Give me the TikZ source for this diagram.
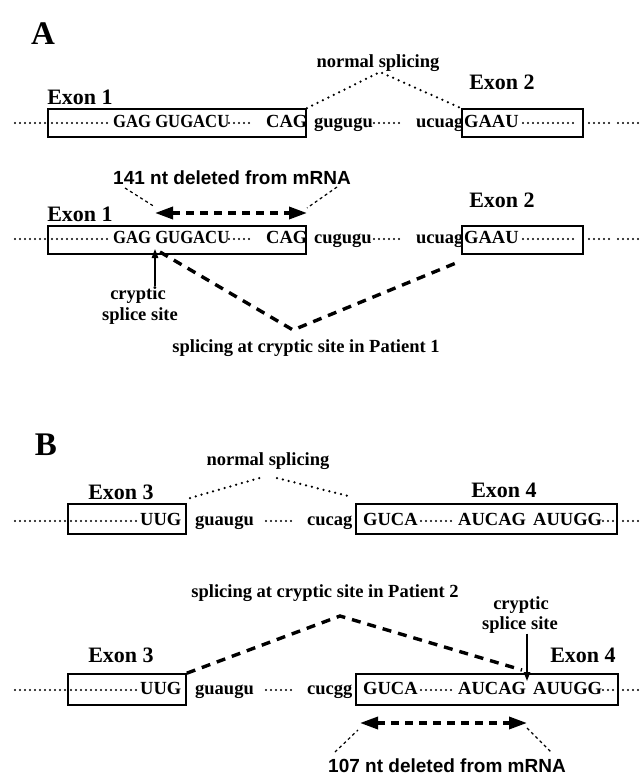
\documentclass[tikz,border=0pt]{standalone}
\usepackage{fontspec}
\setmainfont{Liberation Serif}
\newfontfamily\sansb{Liberation Sans}
\usetikzlibrary{arrows.meta}
\begin{document}
\begin{tikzpicture}[x=1pt,y=-1pt,
  lab/.style={font=\fontsize{18.5}{20}\selectfont\bfseries, inner sep=0pt},
  seq/.style={font=\fontsize{18.5}{20}\selectfont\bfseries, inner sep=0pt, anchor=base west},
  exonlab/.style={font=\fontsize{22}{24}\selectfont\bfseries, inner sep=0pt},
  panel/.style={font=\fontsize{33}{36}\selectfont\bfseries, inner sep=0pt},
  delab/.style={font=\sansb\fontsize{19}{21}\selectfont\bfseries, inner sep=0pt},
  exonbox/.style={draw, line width=1.6pt, inner sep=0pt},
  rowdots/.style={line width=2.2pt, line cap=round, dash pattern=on 0pt off 5pt},
  normdots/.style={line width=2.5pt, line cap=round, dash pattern=on 0pt off 6pt},
  bigdash/.style={line width=3.4pt, dash pattern=on 9pt off 7pt},
  leader/.style={line width=1.2pt, dash pattern=on 3pt off 3pt},
  dblarrow/.style={line width=3.4pt, dash pattern=on 8pt off 6pt, {Triangle[length=18pt,width=12pt]}-{Triangle[length=18pt,width=12pt]}},
  siteptr/.style={line width=1.3pt, -{Triangle[length=9pt,width=6.5pt]}}
]
\useasboundingbox (0,0) rectangle (642,776);

% ===================== Panel A =====================
\node[panel] (pA) at (43,34) {A};

% --- row A1 ---
\node[exonbox, minimum width=258pt, minimum height=28pt] (a1b1) at (177,123) {};
\node[exonbox, minimum width=121pt, minimum height=28pt] (a1b2) at (522.5,123) {};
\node[exonlab] (a1e1) at (80,97) {Exon 1};
\node[exonlab] (a1e2) at (502,82) {Exon 2};
\node[lab] (a1ns) at (378,63) {normal splicing};
\coordinate (a1pk) at (380,72);
\draw[normdots] (a1b1.north east) -- (a1pk) -- (a1b2.north west);
\draw[rowdots] (15,123) -- (46,123);
\draw[rowdots] (52,123) -- (108,123);
\draw[rowdots] (229,123) -- (250,123);
\draw[rowdots] (374,123) -- (403,123);
\draw[rowdots] (523,123) -- (577,123);
\draw[rowdots] (589,123) -- (609,123);
\draw[rowdots] (618,123) -- (638,123);
\node[seq] (a1s1) at (113,127.5) {\scalebox{0.9}[1]{GAG GUGACU}};
\node[seq] (a1s2) at (266,127.5) {CAG};
\node[seq] (a1s3) at (314,127.5) {gugugu};
\node[seq] (a1s4) at (416,127.5) {ucuag};
\node[seq] (a1s5) at (464,127.5) {GAAU};

% --- row A2 ---
\node[delab] (a2del) at (232,178) {141 nt deleted from mRNA};
\coordinate (a2al) at (155,213);
\coordinate (a2ar) at (307,213);
\coordinate (a2ll) at (125,188);
\coordinate (a2lr) at (337,187);
\draw[leader] (a2ll) -- (155,207);
\draw[leader] (a2lr) -- (307,208);
\draw[dblarrow] (a2al) -- (a2ar);
\node[exonbox, minimum width=258pt, minimum height=28pt] (a2b1) at (177,240) {};
\node[exonbox, minimum width=121pt, minimum height=28pt] (a2b2) at (522.5,240) {};
\node[exonlab] (a2e1) at (80,214) {Exon 1};
\node[exonlab] (a2e2) at (502,200) {Exon 2};
\draw[rowdots] (15,239) -- (46,239);
\draw[rowdots] (52,239) -- (108,239);
\draw[rowdots] (229,239) -- (250,239);
\draw[rowdots] (374,239) -- (403,239);
\draw[rowdots] (523,239) -- (577,239);
\draw[rowdots] (589,239) -- (609,239);
\draw[rowdots] (618,239) -- (638,239);
\node[seq] (a2s1) at (113,243.5) {\scalebox{0.9}[1]{GAG GUGACU}};
\node[seq] (a2s2) at (266,243.5) {CAG};
\node[seq] (a2s3) at (314,243.5) {cugugu};
\node[seq] (a2s4) at (416,243.5) {ucuag};
\node[seq] (a2s5) at (464,243.5) {GAAU};
\node[lab] (a2cr) at (138,295) {cryptic};
\node[lab] (a2ss) at (140,316) {splice site};
\coordinate (a2tip) at (155,249);
\draw[siteptr] (a2cr.north -| a2tip) -- (a2tip);
\coordinate (a2vs) at (160,252);
\coordinate (a2vb) at (293,330);
\coordinate (a2ve) at (456,263);
\draw[bigdash] (a2vs) -- (a2vb) -- (a2ve);
\node[lab] (a2cap) at (306,348) {splicing at cryptic site in Patient 1};

% ===================== Panel B =====================
\node[panel] (pB) at (46,445) {B};

% --- row B1 ---
\node[lab] (b1ns) at (268,461) {normal splicing};
\node[exonbox, minimum width=118pt, minimum height=30pt] (b1b3) at (127,519) {};
\node[exonbox, minimum width=261pt, minimum height=30pt] (b1b4) at (486.5,519) {};
\node[exonlab] (b1e3) at (121,492) {Exon 3};
\node[exonlab] (b1e4) at (504,490) {Exon 4};
\coordinate (b1pl) at (263,477);
\coordinate (b1pr) at (277,478);
\coordinate (b1l) at (190,498);
\coordinate (b1r) at (352,497);
\draw[normdots] (b1l) -- (b1pl);
\draw[normdots] (b1pr) -- (b1r);
\draw[rowdots] (15,521) -- (65,521);
\draw[rowdots] (71,521) -- (137,521);
\draw[rowdots] (266,521) -- (295,521);
\draw[rowdots] (421,521) -- (455,521);
\draw[rowdots] (603,521) -- (614,521);
\draw[rowdots] (623,521) -- (640,521);
\node[seq] (b1s1) at (140,525.5) {UUG};
\node[seq] (b1s2) at (195,525.5) {guaugu};
\node[seq] (b1s3) at (307,525.5) {cucag};
\node[seq] (b1s4) at (363,525.5) {GUCA};
\node[seq] (b1s5) at (458,525.5) {AUCAG};
\node[seq] (b1s6) at (533,525.5) {AUUGG};

% --- row B2 ---
\node[lab] (b2cap) at (325,593) {splicing at cryptic site in Patient 2};
\node[lab] (b2cr) at (521,605) {cryptic};
\node[lab] (b2ss) at (520,625) {splice site};
\node[exonbox, minimum width=118pt, minimum height=31pt] (b2b3) at (127,689.5) {};
\node[exonbox, minimum width=262pt, minimum height=31pt] (b2b4) at (487,689.5) {};
\node[exonlab] (b2e3) at (121,655) {Exon 3};
\node[exonlab] (b2e4) at (583,655) {Exon 4};
\coordinate (b2pk) at (340,616);
\coordinate (b2end) at (522,670);
\draw[bigdash] (b2b3.north east) -- (b2pk) -- (b2end);
\coordinate (b2tip) at (527,681);
\draw[siteptr] (b2ss.south -| b2tip) -- (b2tip);
\draw[rowdots] (15,690) -- (65,690);
\draw[rowdots] (71,690) -- (137,690);
\draw[rowdots] (266,690) -- (295,690);
\draw[rowdots] (421,690) -- (455,690);
\draw[rowdots] (603,690) -- (614,690);
\draw[rowdots] (623,690) -- (640,690);
\node[seq] (b2s1) at (140,694.5) {UUG};
\node[seq] (b2s2) at (195,694.5) {guaugu};
\node[seq] (b2s3) at (307,694.5) {cucgg};
\node[seq] (b2s4) at (363,694.5) {GUCA};
\node[seq] (b2s5) at (458,694.5) {AUCAG};
\node[seq] (b2s6) at (533,694.5) {AUUGG};
\coordinate (b2al) at (360,723);
\coordinate (b2ar) at (527,723);
\draw[dblarrow] (b2al) -- (b2ar);
\node[delab] (b2del) at (447,766) {107 nt deleted from mRNA};
\draw[leader] (335,752) -- (358,730);
\draw[leader] (527,728) -- (552,753);
\end{tikzpicture}
\end{document}
